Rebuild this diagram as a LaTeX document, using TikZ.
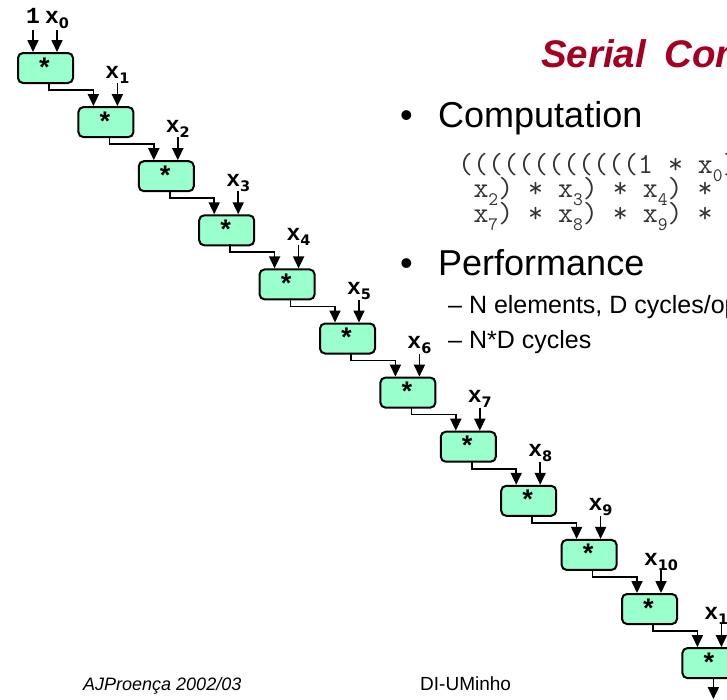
\documentclass[tikz,border=0pt]{standalone}
\usepackage{fontspec}
\setmainfont{Liberation Sans}
\newfontfamily\labfont{Liberation Mono}
\newfontfamily\subfont{DejaVu Sans}
\usetikzlibrary{arrows.meta,calc}
\definecolor{boxfill}{RGB}{153,255,204}
\definecolor{titlered}{RGB}{165,0,33}

% subscript digit under a bold label
\newcommand{\lsub}[1]{\raisebox{-5pt}{\subfont\fontsize{14.5}{14.5}\selectfont #1}}
% subscript digit inside the code lines
\newcommand{\csub}[1]{\raisebox{-8pt}{\fontsize{19}{19}\selectfont #1}}

\tikzset{
  mulbox/.style={draw=black, line width=2pt, fill=boxfill, rounded corners=5pt,
    minimum width=55pt, minimum height=30pt, inner sep=0pt, anchor=north west},
  starmark/.style={font=\labfont\bfseries\fontsize{27}{27}\selectfont, inner sep=0pt, anchor=base},
  inlab/.style={font=\labfont\bfseries\fontsize{23}{23}\selectfont, inner sep=0pt, anchor=base},
  wire/.style={line width=1.7pt, -{Triangle[length=12pt,width=11pt]}},
  txt/.style={inner sep=0pt, anchor=base west},
  code/.style={txt, font=\ttfamily\fontsize{29.1}{29.1}\selectfont, text=black!80},
  titletxt/.style={txt, font=\bfseries\itshape\fontsize{38.5}{38.5}\selectfont, text=titlered},
}

\begin{document}
\begin{tikzpicture}[x=1pt,y=-1pt]
\useasboundingbox (0,0) rectangle (727,699);
\clip (0,0) rectangle (727,699);

% chain of multipliers
\foreach \i in {0,...,11}{
  \pgfmathsetmacro\mx{17+60.4*\i}
  \pgfmathsetmacro\my{52+54.1*\i}
  \node[mulbox] (m\i) at (\mx,\my) {};
  \node[starmark] (st\i) at (\mx+27.5,\my+25) {*};
  \coordinate (m\i-a) at (\mx+16,\my);
  \coordinate (m\i-b) at (\mx+40,\my);
  \coordinate (m\i-o) at (\mx+32,\my+30);
  \coordinate (m\i-t) at (\mx+40,\my-23);
  \ifnum\i>0
    \node[inlab] (x\i) at (\mx+40,\my-28) {x\lsub{\i}};
    \draw[wire] (m\i-t) -- (m\i-b);
  \fi
}

% first inputs: 1 and x0
\node[inlab] (one) at (33,23) {1};
\node[inlab] (x0) at (57,23) {x\lsub{0}};
\coordinate (one-t) at (33,30);
\coordinate (x0-t) at (57,30);
\draw[wire] (one-t) -- (m0-a);
\draw[wire] (x0-t) -- (m0-b);

% partial products passed down the chain
\foreach \i in {0,...,10}{
  \pgfmathtruncatemacro\j{\i+1}
  \draw[wire] (m\i-o) -- ++(0,8) -| (m\j-a);
}
\coordinate (out) at ($(m11-o)+(0,22)$);
\draw[wire] (m11-o) -- (out);

% slide text
\node[titletxt] (title1) at (541,67) {Serial};
\node[titletxt] (title2) at (664,67) {Computation};
\node[txt, font=\fontsize{36}{36}\selectfont] (b1) at (400,127) {•};
\node[txt, font=\fontsize{36}{36}\selectfont] (comp) at (438,127) {Computation};
\node[code] (c1) at (458,173)
  {((((((((((((1 * x\csub{0}) * x\csub{1}) *};
\node[code] (c2) at (473.3,197)
  {x\csub{2}) * x\csub{3}) * x\csub{4}) * x\csub{5}) * x\csub{6}) *};
\node[code] (c3) at (473.3,222)
  {x\csub{7}) * x\csub{8}) * x\csub{9}) * x\csub{10}) * x\csub{11})};
\node[txt, font=\fontsize{36}{36}\selectfont] (b2) at (400,275) {•};
\node[txt, font=\fontsize{36}{36}\selectfont] (perf) at (438,275) {Performance};
\node[txt, font=\fontsize{25}{25}\selectfont] (p1) at (448,313) {– N elements, D cycles/operation};
\node[txt, font=\fontsize{25}{25}\selectfont] (p2) at (448,348) {– N*D cycles};

% footer
\node[txt, font=\itshape\fontsize{18}{18}\selectfont] (auth) at (83,690) {AJProença 2002/03};
\node[txt, font=\fontsize{19}{19}\selectfont] (dept) at (420,690) {DI-UMinho};
\end{tikzpicture}
\end{document}
